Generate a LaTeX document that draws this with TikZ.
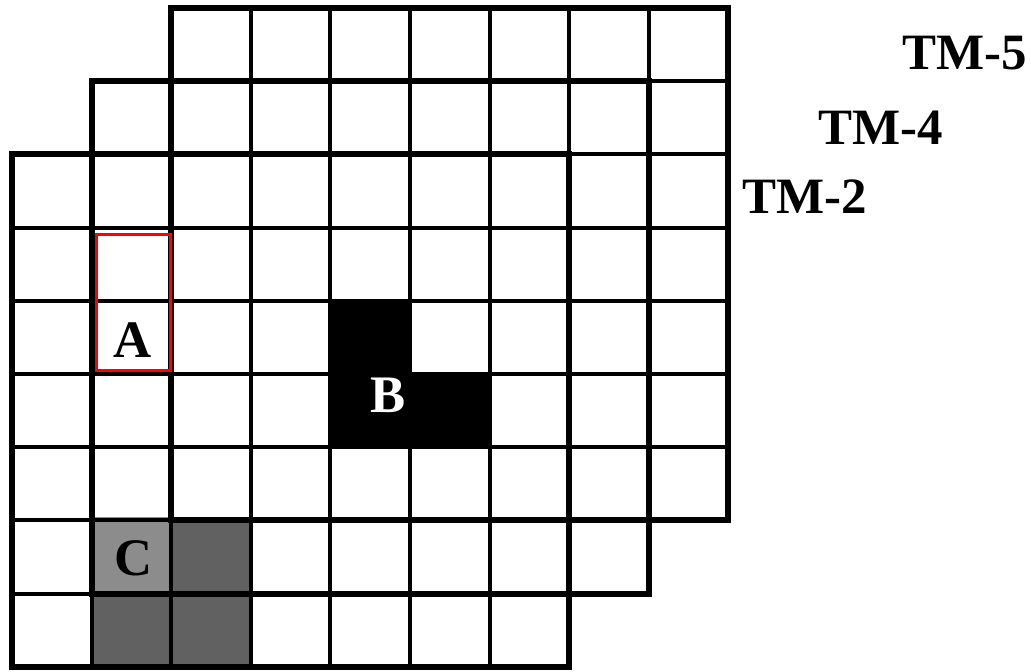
\documentclass[tikz,border=0pt]{standalone}
\usepackage{fontspec}
\setmainfont{Liberation Serif}
\begin{document}
\begin{tikzpicture}[x=0.02cm,y=-0.02cm,
    celda/.style={line width=2.3pt},
    borde/.style={line width=3.5pt, line join=miter},
    etiqueta/.style={font=\fontsize{29}{32}\selectfont\bfseries, inner sep=0pt},
    letra/.style={font=\fontsize{30}{33}\selectfont\bfseries, inner sep=0pt}]
            \useasboundingbox (0,0) rectangle (1031,672);

            % Celdas grises (C)
            \fill[black!45] (92,517) rectangle (171,593);
            \fill[black!62] (171,517) rectangle (251,593);
            \fill[black!62] (92,593) rectangle (171,667);
            \fill[black!62] (171,593) rectangle (251,667);

            % Region negra (B)
            \fill[black] (330,303) -- (410,303) -- (410,372) -- (490,372) -- (490,445) -- (330,445) -- cycle;

            % Rejillas TM-5, TM-4 y TM-2
            \foreach \gx/\gy in {2/0, 1/1, 0/2} {
                \foreach \k in {1,...,6} {
                    \draw[celda] ({12+79.6*(\gx+\k)},{8+73.2*\gy}) -- ++(0,{73.2*7});
                    \draw[celda] ({12+79.6*\gx},{8+73.2*(\gy+\k)}) -- ++({79.6*7},0);
                }
                \draw[borde] ({12+79.6*\gx},{8+73.2*\gy}) rectangle ++({79.6*7},{73.2*7});
            }

            % Recuadro rojo (A)
            \draw[red, line width=1.7pt] (96.5,234.5) rectangle (170.5,370.5);

            % Letras
            \node[letra] (a) at (133,340) {A};
            \node[letra, white] (b) at (388,395) {B};
            \node[letra] (c) at (134,558) {C};

            % Nombres de las capas
            \node[etiqueta] (tm5) at (965,53) {TM-5};
            \node[etiqueta] (tm4) at (881,128) {TM-4};
            \node[etiqueta] (tm2) at (805,197) {TM-2};

        \end{tikzpicture}
\end{document}
